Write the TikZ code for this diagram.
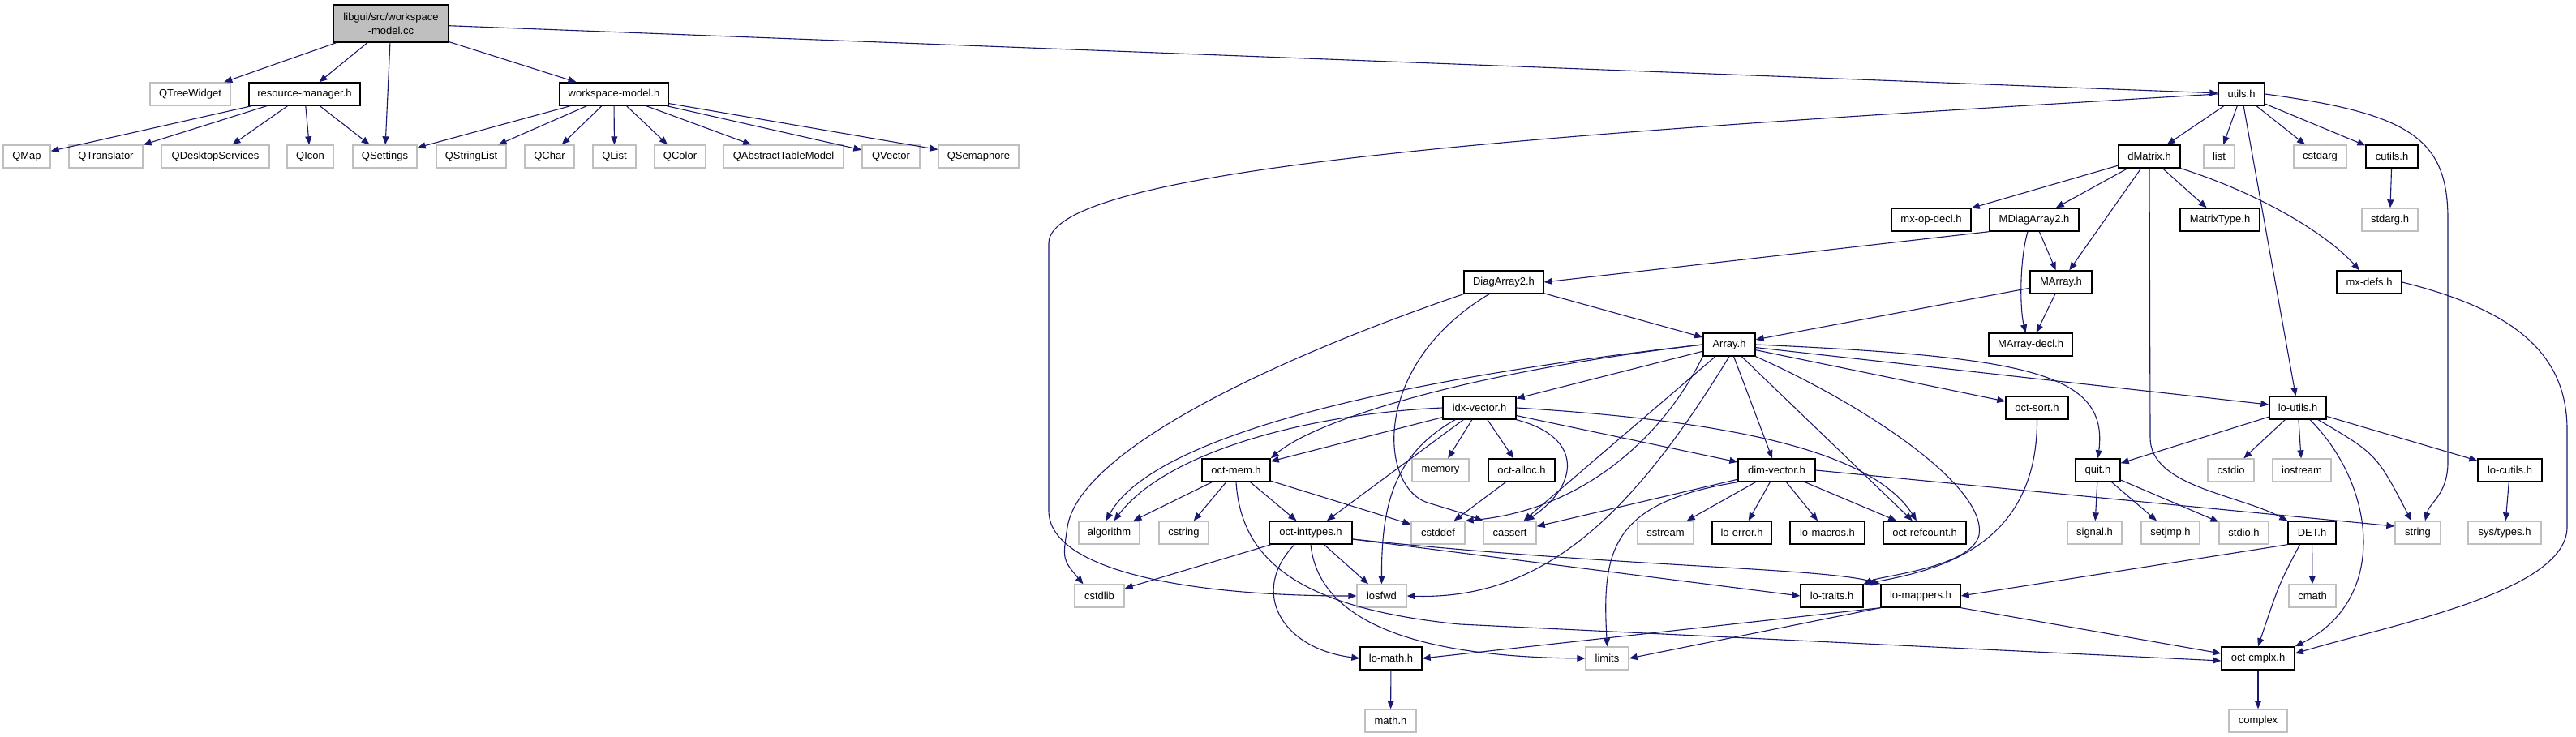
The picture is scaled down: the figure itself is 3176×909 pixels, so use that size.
\documentclass[tikz,border=0pt]{standalone}
\usepackage{fontspec}
\setmainfont{Liberation Sans}
\usetikzlibrary{arrows.meta}
\definecolor{incblue}{RGB}{25,25,112}
\definecolor{extgray}{RGB}{191,191,191}
\tikzset{
  doc/.style={draw=black, line width=1.4pt, fill=white, minimum height=28pt,
              inner sep=0pt, font=\fontsize{13}{17}\selectfont},
  ext/.style={doc, draw=extgray},
  inc/.style={draw=incblue, line width=1.1pt, -{Triangle[length=10pt,width=8pt]}}
}
\begin{document}
\begin{tikzpicture}[x=1pt,y=-1pt]
\useasboundingbox[fill=white] (0,0) rectangle (3176,909);

% rows 1 and 2
\node[doc, fill=extgray, minimum width=142, minimum height=46, align=center] (root) at (482,29) {libgui/src/workspace\\-model.cc};
\node[ext, minimum width=99] (qtree) at (234.5,116) {QTreeWidget};
\node[doc, minimum width=137] (resmgr) at (375.5,116) {resource-manager.h};
\node[doc, minimum width=134] (wsmodel) at (757,116) {workspace-model.h};
\node[doc, minimum width=57] (utils) at (2763.5,116) {utils.h};

% row 3
\node[ext, minimum width=58] (qmap) at (33,193) {QMap};
\node[ext, minimum width=91] (qtranslator) at (130.5,193) {QTranslator};
\node[ext, minimum width=133] (qdesktop) at (265.5,193) {QDesktopServices};
\node[ext, minimum width=57] (qicon) at (382.5,193) {QIcon};
\node[ext, minimum width=79] (qsettings) at (474.5,193) {QSettings};
\node[ext, minimum width=86] (qstringlist) at (581,193) {QStringList};
\node[ext, minimum width=61] (qchar) at (677.5,193) {QChar};
\node[ext, minimum width=53] (qlist) at (757.5,193) {QList};
\node[ext, minimum width=63] (qcolor) at (838.5,193) {QColor};
\node[ext, minimum width=148] (qabstract) at (966,193) {QAbstractTableModel};
\node[ext, minimum width=71] (qvector) at (1098.5,193) {QVector};
\node[ext, minimum width=99] (qsemaphore) at (1206.5,193) {QSemaphore};
\node[doc, minimum width=76] (dmatrix) at (2650,193) {dMatrix.h};
\node[ext, minimum width=38] (list) at (2736,193) {list};
\node[ext, minimum width=65] (cstdarg) at (2860.5,193) {cstdarg};
\node[doc, minimum width=64] (cutils) at (2949,193) {cutils.h};

% rows 4 to 7
\node[doc, minimum width=98] (mxopdecl) at (2381,271) {mx-op-decl.h};
\node[doc, minimum width=110] (mdiag) at (2508,271) {MDiagArray2.h};
\node[doc, minimum width=98] (matrixtype) at (2737,271) {MatrixType.h};
\node[ext, minimum width=69] (stdarg) at (2946.5,271) {stdarg.h};
\node[doc, minimum width=98] (diag) at (1854,348) {DiagArray2.h};
\node[doc, minimum width=76] (marray) at (2541,348) {MArray.h};
\node[doc, minimum width=80] (mxdefs) at (2921,348) {mx-defs.h};
\node[doc, minimum width=64] (array) at (2132,425) {Array.h};
\node[doc, minimum width=103] (marraydecl) at (2503.5,425) {MArray-decl.h};
\node[doc, minimum width=90] (idxvector) at (1824,503) {idx-vector.h};
\node[doc, minimum width=77] (octsort) at (2511.5,503) {oct-sort.h};
\node[doc, minimum width=70] (loutils) at (2833,503) {lo-utils.h};

% row 8
\node[doc, minimum width=84] (octmem) at (1524,580) {oct-mem.h};
\node[ext, minimum width=70] (memory) at (1776,580) {memory};
\node[doc, minimum width=82] (octalloc) at (1876,580) {oct-alloc.h};
\node[doc, minimum width=95] (dimvector) at (2190.5,580) {dim-vector.h};
\node[doc, minimum width=55] (quit) at (2586.5,580) {quit.h};
\node[ext, minimum width=57] (cstdio) at (2750.5,580) {cstdio};
\node[ext, minimum width=72] (iostream) at (2838,580) {iostream};
\node[doc, minimum width=79] (locutils) at (3094.5,580) {lo-cutils.h};

% row 9
\node[ext, minimum width=75] (algorithm) at (1367.5,657) {algorithm};
\node[ext, minimum width=61] (cstring) at (1459.5,657) {cstring};
\node[doc, minimum width=102] (octinttypes) at (1616,657) {oct-inttypes.h};
\node[ext, minimum width=66] (cstddef) at (1773,657) {cstddef};
\node[ext, minimum width=65] (cassert) at (1861.5,657) {cassert};
\node[ext, minimum width=69] (sstream) at (2053.5,657) {sstream};
\node[doc, minimum width=73] (loerror) at (2147.5,657) {lo-error.h};
\node[doc, minimum width=92] (lomacros) at (2253,657) {lo-macros.h};
\node[doc, minimum width=102] (octrefcount) at (2373,657) {oct-refcount.h};
\node[ext, minimum width=67] (signalh) at (2582.5,657) {signal.h};
\node[ext, minimum width=72] (setjmp) at (2676,657) {setjmp.h};
\node[ext, minimum width=61] (stdioh) at (2766.5,657) {stdio.h};
\node[doc, minimum width=59] (det) at (2850.5,657) {DET.h};
\node[ext, minimum width=56] (string) at (2981,657) {string};
\node[ext, minimum width=90] (systypes) at (3088,657) {sys/types.h};

% rows 10 to 12
\node[ext, minimum width=61] (cstdlib) at (1355.5,735) {cstdlib};
\node[ext, minimum width=61] (iosfwd) at (1703.5,735) {iosfwd};
\node[doc, minimum width=77] (lotraits) at (2258.5,735) {lo-traits.h};
\node[doc, minimum width=98] (lomappers) at (2368,735) {lo-mappers.h};
\node[ext, minimum width=58] (cmath) at (2851,735) {cmath};
\node[doc, minimum width=76] (lomath) at (1715,812) {lo-math.h};
\node[ext, minimum width=53] (limits) at (1981.5,812) {limits};
\node[doc, minimum width=90] (octcmplx) at (2784,812) {oct-cmplx.h};
\node[ext, minimum width=63] (mathh) at (1714.5,889) {math.h};
\node[ext, minimum width=72] (complex) at (2784,889) {complex};

% straight includes
\foreach \a/\b in {root/qtree, root/resmgr, root/qsettings, root/wsmodel, root/utils,
    resmgr/qmap, resmgr/qtranslator, resmgr/qdesktop, resmgr/qicon, resmgr/qsettings,
    wsmodel/qsettings, wsmodel/qstringlist, wsmodel/qchar, wsmodel/qlist, wsmodel/qcolor,
    wsmodel/qabstract, wsmodel/qvector, wsmodel/qsemaphore,
    utils/dmatrix, utils/list, utils/cstdarg, utils/cutils, utils/loutils, cutils/stdarg,
    dmatrix/mxopdecl, dmatrix/mdiag, dmatrix/marray, dmatrix/matrixtype,
    mdiag/marray, marray/marraydecl, marray/array, diag/array,
    array/idxvector, array/dimvector, array/octrefcount, array/octsort, array/loutils, array/cassert,
    idxvector/octmem, idxvector/octinttypes, idxvector/memory, idxvector/octalloc, idxvector/dimvector,
    octalloc/cstddef, octmem/algorithm, octmem/cstring, octmem/octinttypes, octmem/cstddef,
    octinttypes/cstdlib, octinttypes/iosfwd,
    dimvector/cassert, dimvector/sstream, dimvector/loerror, dimvector/lomacros, dimvector/octrefcount,
    loutils/quit, loutils/cstdio, loutils/iostream, loutils/locutils,
    quit/signalh, quit/setjmp, quit/stdioh, locutils/systypes,
    det/cmath, lomath/mathh, octcmplx/complex}
  \draw[inc] (\a) -- (\b);

% routed includes
\draw[inc] (utils.west) .. controls (2000,160) and (1293,200) .. (1293,300) -- (1293,630)
    .. controls (1293,700) and (1450,735) .. (iosfwd.west);
\draw[inc] (utils.east) .. controls (2970,140) and (3018,170) .. (3018,270) -- (3018,570)
    .. controls (3018,610) and (2995,620) .. ([xshift=9]string.north);
\draw[inc] (dmatrix.south) -- (2651,540) .. controls (2651,600) and (2760,610) .. (det.north west);
\draw[inc] (dmatrix.south east) .. controls (2790,240) and (2870,290) .. ([xshift=-12]mxdefs.north);
\draw[inc] (mdiag.south west) -- (diag.east);
\draw[inc] ([xshift=-8]mdiag.south) .. controls (2490,320) and (2490,380) .. ([xshift=-6]marraydecl.north);
\draw[inc] (mxdefs.east) .. controls (3090,380) and (3165,430) .. (3165,530) -- (3165,650)
    .. controls (3165,730) and (2950,770) .. ([yshift=6]octcmplx.east);
\draw[inc] (diag.south west) .. controls (1550,450) and (1330,560) .. (1316,650)
    .. controls (1310,690) .. ([xshift=-20]cstdlib.north);
\draw[inc] ([xshift=-18]diag.south) .. controls (1690,450) and (1700,600) .. (1760,620)
    .. controls (1800,632) .. (cassert.north west);
\draw[inc] (array.west) .. controls (1700,470) and (1420,540) .. ([xshift=-4]algorithm.north);
\draw[inc] (array.west) .. controls (1800,460) and (1620,520) .. (octmem.north east);
\draw[inc] (array.south west) .. controls (2050,540) and (1950,630) .. (cstddef.north east);
\draw[inc] (array.south) .. controls (2010,640) and (1900,740) .. (iosfwd.east);
\draw[inc] (array.south east) .. controls (2300,500) and (2450,600) .. (2440,660)
    .. controls (2430,700) and (2320,710) .. (lotraits.north east);
\draw[inc] (array.east) .. controls (2500,440) and (2600,460) .. (quit.north);
\draw[inc] (idxvector.west) .. controls (1620,510) and (1440,555) .. ([xshift=6]algorithm.north);
\draw[inc] ([xshift=-30]idxvector.south) .. controls (1720,560) and (1703,620) .. (iosfwd.north);
\draw[inc] (idxvector.south east) .. controls (1955,540) and (1945,600) .. ([xshift=20]cassert.north);
\draw[inc] (idxvector.east) .. controls (2150,520) and (2310,560) .. ([xshift=-10]octrefcount.north);
\draw[inc] (octmem.south) .. controls (1530,690) and (1600,750) .. (1800,770) -- ([yshift=-3]octcmplx.west);
\draw[inc] ([xshift=-20]octinttypes.south) .. controls (1540,730) and (1580,800) .. (lomath.west);
\draw[inc] (octinttypes.south) .. controls (1625,760) and (1730,810) .. (limits.west);
\draw[inc] ([yshift=-8]octinttypes.east) -- (lotraits.west);
\draw[inc] ([yshift=-8]octinttypes.east) .. controls (2000,700) and (2250,700) .. (lomappers.north west);
\draw[inc] (dimvector.south west) .. controls (1985,620) and (1975,680) .. (limits.north);
\draw[inc] (dimvector.east) -- ([yshift=8]string.west);
\draw[inc] (octsort.south) .. controls (2512,680) and (2380,705) .. (lotraits.north east);
\draw[inc] ([xshift=25]loutils.south) .. controls (2930,560) .. ([xshift=-8]string.north);
\draw[inc] ([xshift=15]loutils.south) .. controls (2930,600) and (2945,740) .. (octcmplx.north east);
\draw[inc] ([xshift=-15]det.south) .. controls (2810,720) .. (octcmplx.north);
\draw[inc] (det.south west) -- (lomappers.east);
\draw[inc] (lomappers.south west) -- (lomath.east);
\draw[inc] (lomappers.south west) -- (limits.east);
\draw[inc] (lomappers.south east) -- ([yshift=6]octcmplx.west);
\end{tikzpicture}
\end{document}
